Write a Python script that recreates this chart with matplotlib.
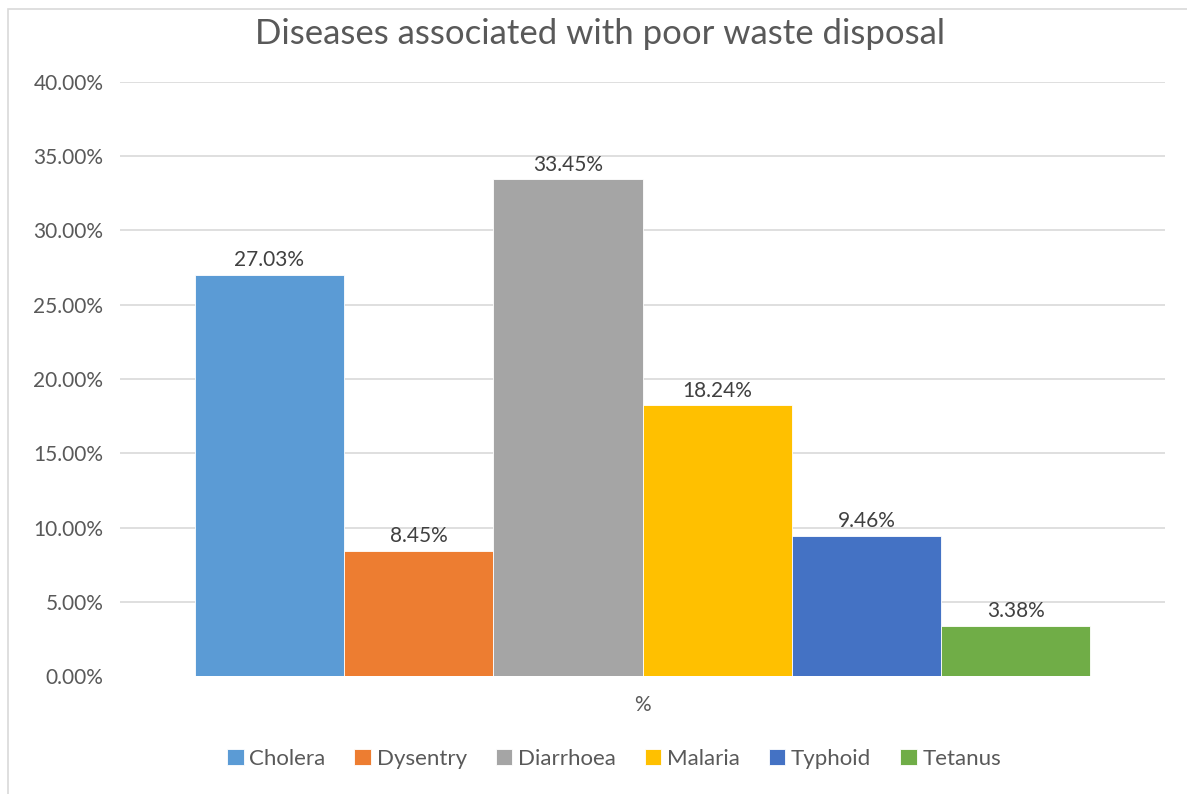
import numpy as np
import matplotlib.pyplot as plt
from matplotlib.patches import Rectangle

# data
diseases = ["Cholera", "Dysentry", "Diarrhoea", "Malaria", "Typhoid", "Tetanus"]
values = [27.03, 8.45, 33.45, 18.24, 9.46, 3.38]
colors = ["#5B9BD5", "#ED7D31", "#A5A5A5", "#FFC000", "#4472C4", "#70AD47"]
category = "%"
yticks = [0, 5, 10, 15, 20, 25, 30, 35, 40]

plt.rcParams['font.family'] = ['Lato', 'DejaVu Sans']
text_col = "#595959"

fig = plt.figure(figsize=(11.87, 7.94), dpi=100)
# light outer border of the chart area
fig.patches.append(Rectangle((8 / 1187, -0.05), 1.2, (794 - 9) / 794 + 0.05,
                             transform=fig.transFigure, fill=False,
                             edgecolor="#D9D9D9", linewidth=1.2))

ax = fig.add_axes([120 / 1187, 118 / 794, 1045 / 1187, 594 / 794])

n = len(values)
offsets = np.arange(n) - (n - 1) / 2
for off, v, c, name in zip(offsets, values, colors, diseases):
    ax.bar(off, v, width=1.0, color=c, edgecolor="white", linewidth=0.6, label=name, zorder=2)
    ax.text(off, v + 0.3, f"{v:.2f}%", ha="center", va="bottom",
            fontsize=15, color="#404040")

ax.set_xlim(-3.5, 3.5)
ax.set_ylim(0, 40)
ax.set_yticks(yticks)
ax.set_yticklabels([f"{t:.2f}%" for t in yticks], fontsize=15, color=text_col)
ax.tick_params(axis="y", length=0, pad=12)
ax.set_xticks([])
for t in yticks[1:]:
    ax.axhline(t, color="#D9D9D9", linewidth=1.2, zorder=1)
for s in ax.spines.values():
    s.set_visible(False)

fig.text(642 / 1187, 1 - 705 / 794, category, ha="center", va="center",
         fontsize=15, color=text_col)
fig.text(600 / 1187, 1 - 34 / 794, "Diseases associated with poor waste disposal",
         ha="center", va="center", fontsize=25, color=text_col)

ax.legend(loc="center", bbox_to_anchor=(614 / 1187, 1 - 759 / 794),
          bbox_transform=fig.transFigure, ncol=n, frameon=False,
          fontsize=16, handlelength=0.75, handleheight=0.75, handletextpad=0.25,
          columnspacing=1.3, labelcolor=text_col)

fig.savefig("out.png", dpi=100)
